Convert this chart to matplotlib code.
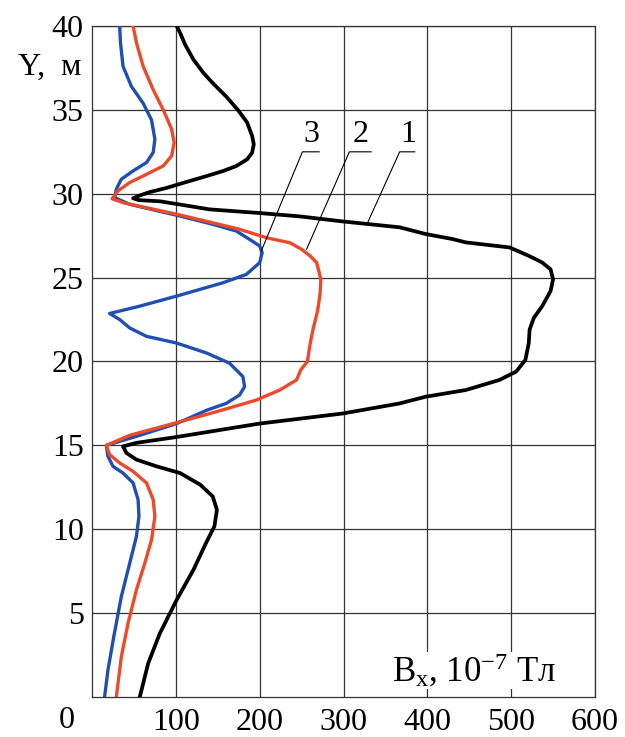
import matplotlib
matplotlib.use("Agg")
import matplotlib.pyplot as plt

plt.rcParams['font.family'] = ['Liberation Serif', 'DejaVu Serif']
plt.rcParams['mathtext.fontset'] = 'custom'
plt.rcParams['mathtext.rm'] = 'Liberation Serif'
plt.rcParams['mathtext.it'] = 'Liberation Serif:italic'

# curve 1 (black): depth Y, m  /  Bx, 1e-7 T
y1 = [40.0, 39.6, 38.9, 38.0, 37.2, 36.6, 35.8, 35.0, 34.25, 33.45, 32.95, 32.45, 32.05,
      31.65, 31.35, 31.0, 30.65, 30.35, 30.1, 29.9, 29.73, 29.62, 29.55, 29.3, 29.07,
      28.85, 28.65, 28.35, 28.0, 27.6, 27.3, 27.1, 26.8, 26.3, 25.9, 25.5, 24.9, 24.2,
      23.3, 22.6, 21.9, 21.1, 20.1, 19.4, 18.9, 18.3, 17.9, 17.5, 16.9, 16.3, 15.5,
      15.15, 14.94, 14.55, 14.15, 13.75, 13.35, 12.66, 11.96, 11.16, 10.17, 9.18, 7.58,
      5.79, 3.8, 2.0, 0.0]
b1 = [101, 105, 111, 121, 133, 144, 160, 174, 185, 191, 193, 191, 185,
      172, 156, 133, 109, 89, 69, 57, 49, 56, 81, 112, 140,
      200, 248, 299, 367, 398, 430, 446, 498, 521, 537, 547, 550, 547,
      537, 527, 522, 521, 517, 506, 486, 446, 398, 367, 299, 200, 101,
      53, 37, 41, 53, 77, 105, 129, 144, 149, 146, 136, 121,
      101, 81, 67, 57]

# curve 2 (red)
y2 = [40.0, 39.0, 37.6, 36.2, 35.0, 33.85, 33.05, 32.26, 31.66, 31.16, 30.67, 30.17,
      29.7, 29.47, 28.78, 28.27, 27.88, 27.38, 27.08, 26.69, 26.3, 25.89, 24.9, 24.0,
      23.0, 22.0, 21.0, 20.0, 19.5, 18.9, 18.3, 17.7, 17.0, 16.3, 15.6, 15.0, 14.45,
      13.95, 13.45, 12.76, 11.76, 10.76, 9.37, 7.98, 6.39, 4.4, 2.4, 0.0]
b2 = [49, 53, 61, 73, 85, 95, 98, 95, 85, 65, 45, 31,
      24, 37, 101, 144, 176, 208, 236, 250, 260, 268, 273, 272,
      269, 264, 260, 257, 249, 244, 224, 196, 148, 97, 45, 17, 21,
      33, 49, 65, 73, 75, 71, 63, 53, 43, 35, 29]

# curve 3 (blue)
y3 = [40.0, 39.0, 37.6, 36.4, 35.4, 34.4, 33.25, 32.46, 31.86, 31.36, 30.87, 30.27,
      29.77, 29.37, 28.67, 28.18, 27.78, 27.28, 26.89, 26.49, 25.89, 25.19, 24.69, 23.9,
      23.3, 22.86, 22.5, 22.0, 21.5, 21.1, 20.5, 19.9, 19.1, 18.5, 18.0, 17.5, 17.1,
      16.3, 15.6, 15.0, 14.35, 13.75, 13.35, 12.76, 11.76, 10.76, 9.57, 7.98, 5.99,
      3.6, 1.6, 0.0]
b3 = [33, 34, 37, 47, 61, 71, 75, 73, 65, 49, 35, 29,
      27, 45, 105, 144, 172, 188, 200, 203, 200, 184, 156, 101,
      57, 21, 33, 45, 65, 101, 137, 164, 180, 182, 176, 160, 137,
      101, 57, 17, 19, 25, 37, 49, 55, 56, 53, 45, 35,
      26, 19, 15]

x_ticks = [100, 200, 300, 400, 500, 600]
y_ticks = [5, 10, 15, 20, 25, 30, 35, 40]

fig = plt.figure(figsize=(6.25, 7.37), dpi=100)
ax = fig.add_axes([0.1472, 0.0543, 0.8048, 0.9104])

ax.plot(b1, y1, color='black', lw=2.7, solid_joinstyle='round', zorder=3)
ax.plot(b3, y3, color='#1f4fb2', lw=2.4, solid_joinstyle='round', zorder=3)
ax.plot(b2, y2, color='#ee4a2a', lw=2.4, solid_joinstyle='round', zorder=4)

ax.set_xlim(0, 600)
ax.set_ylim(0, 40)
ax.set_xticks(x_ticks)
ax.set_yticks(y_ticks)
ax.tick_params(length=0, labelsize=23)
ax.tick_params(axis='x', pad=8)
ax.tick_params(axis='y', pad=6)
ax.grid(True, color='#333333', lw=0.9)
for s in ax.spines.values():
    s.set_color('#333333')
    s.set_linewidth(0.9)

# origin label sits left of the axis corner
fig.text(0.107, 0.023, '0', fontsize=23, ha='center', va='center')
fig.text(0.08, 0.908, 'Y,  м', fontsize=23, ha='center', va='center')

ax.text(456, 0.45, r'B$_{\rm x}$, 10$^{-7}$ Тл', fontsize=25, ha='center', va='bottom',
        bbox=dict(facecolor='white', edgecolor='none', pad=0), zorder=5)

# curve numbers with leader lines
for lab, tx, x0, x1, ex, ey in [('3', 262, 251, 271, 202, 26.6),
                                ('2', 321, 307, 333, 256, 26.7),
                                ('1', 377, 367, 385, 329, 28.3)]:
    ax.text(tx, 32.65, lab, fontsize=23, ha='center', va='bottom', zorder=6)
    ax.plot([x1, x0, ex], [32.5, 32.5, ey], color='black', lw=0.8, zorder=6)

fig.savefig('out.png', dpi=100)
